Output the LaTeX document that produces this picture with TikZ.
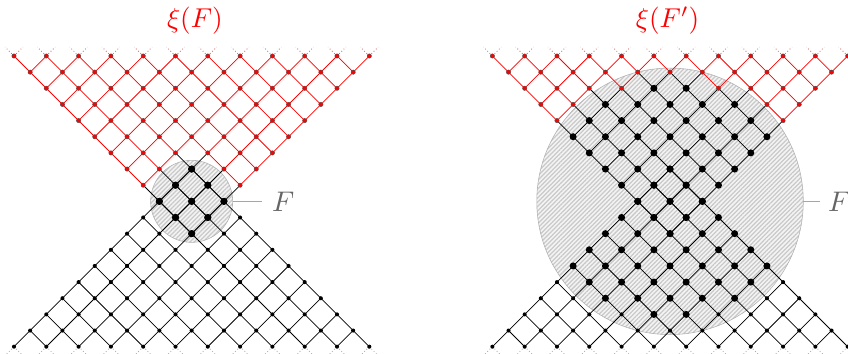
\documentclass[tikz,border=0pt]{standalone}
\usetikzlibrary{patterns.meta}

\tikzset{
  redline/.style={red, line width=0.65pt},
  blackline/.style={black, line width=0.65pt},
  stub/.style={dotted, line width=0.75pt},
  reddot/.style={fill=red, draw=black!70, line width=0.4pt},
  smalldot/.style={fill=black},
  bigdot/.style={fill=black},
  regionF/.style={pattern={Lines[angle=45, distance=2.7pt, line width=1.1pt]}, pattern color=gray!42},
  fline/.style={gray!70, line width=0.5pt},
  flabel/.style={anchor=west, inner sep=0pt, text=black!60, scale=2.5},
  title/.style={anchor=base, inner sep=1pt, text=red, scale=2.4},
}

\begin{document}
\begin{tikzpicture}[x=0.5cm, y=0.5cm]
  \useasboundingbox (-0.867,-18.45) rectangle (51.64,3.467);

  \foreach \p/\dx/\RR/\rad/\lx/\fx/\tx/\tit in {a/0/5/2.54/15.34/15.95/11.2/{$\xi(F)$}, b/29.62/55/8.25/20.29/20.75/10.85/{$\xi(F')$}} {
  \begin{scope}[shift={(\dx,0)}]
    % Points of the upper cone (rows 0..11)
    \foreach \r in {0,...,11} {
      \pgfmathtruncatemacro{\m}{11-\r}
      \foreach \k in {0,...,\m} {
        \pgfmathtruncatemacro{\n}{\r+2*\k}
        \coordinate (\p-\r-\n) at (\n,-\r);
      }
    }
    % Points of the lower cone (rows 7..18)
    \foreach \r in {7,...,18} {
      \pgfmathtruncatemacro{\m}{\r-7}
      \foreach \k in {0,...,\m} {
        \pgfmathtruncatemacro{\n}{18-\r+2*\k}
        \coordinate (\p-\r-\n) at (\n,-\r);
      }
    }
    \coordinate (\p-c) at (11,-9);
    \coordinate (\p-e) at (11+\rad,-9);
    \coordinate (\p-l) at (\lx,-9);

    % Region F (hatched disc)
    \fill[gray!9] (\p-c) circle (\rad);
    \fill[regionF] (\p-c) circle (\rad);
    \draw[gray!60, line width=0.5pt] (\p-c) circle (\rad);

    % Edges of the upper cone: black if they touch F
    \foreach \r in {1,...,11} {
      \pgfmathtruncatemacro{\m}{11-\r}
      \pgfmathtruncatemacro{\q}{\r-1}
      \foreach \k in {0,...,\m} {
        \pgfmathtruncatemacro{\n}{\r+2*\k}
        \pgfmathtruncatemacro{\nl}{\n-1}
        \pgfmathtruncatemacro{\nr}{\n+1}
        \pgfmathtruncatemacro{\fa}{(\n-11)*(\n-11)+(\r-9)*(\r-9)<=\RR}
        \pgfmathtruncatemacro{\cl}{\fa+((\nl-11)*(\nl-11)+(\q-9)*(\q-9)<=\RR)}
        \pgfmathtruncatemacro{\cr}{\fa+((\nr-11)*(\nr-11)+(\q-9)*(\q-9)<=\RR)}
        \ifnum\cl>0 \draw[blackline] (\p-\q-\nl) -- (\p-\r-\n);
        \else \draw[redline] (\p-\q-\nl) -- (\p-\r-\n); \fi
        \ifnum\cr>0 \draw[blackline] (\p-\q-\nr) -- (\p-\r-\n);
        \else \draw[redline] (\p-\q-\nr) -- (\p-\r-\n); \fi
      }
    }
    % Edges of the lower cone
    \foreach \r in {7,...,17} {
      \pgfmathtruncatemacro{\m}{\r-7}
      \pgfmathtruncatemacro{\q}{\r+1}
      \foreach \k in {0,...,\m} {
        \pgfmathtruncatemacro{\n}{18-\r+2*\k}
        \pgfmathtruncatemacro{\nl}{\n-1}
        \pgfmathtruncatemacro{\nr}{\n+1}
        \draw[blackline] (\p-\r-\n) -- (\p-\q-\nl);
        \draw[blackline] (\p-\r-\n) -- (\p-\q-\nr);
      }
    }

    % Dotted continuations at the top and the bottom
    \foreach \n in {0,2,...,22} {
      \draw[stub, red!50!gray!75] (\p-0-\n) -- ++(-0.55,0.55);
      \draw[stub, red!50!gray!75] (\p-0-\n) -- ++(0.55,0.55);
      \draw[stub, gray!65] (\p-18-\n) -- ++(-0.55,-0.55);
      \draw[stub, gray!65] (\p-18-\n) -- ++(0.55,-0.55);
    }

    % Dots
    \foreach \r in {0,...,11} {
      \pgfmathtruncatemacro{\m}{11-\r}
      \foreach \k in {0,...,\m} {
        \pgfmathtruncatemacro{\n}{\r+2*\k}
        \pgfmathtruncatemacro{\inF}{(\n-11)*(\n-11)+(\r-9)*(\r-9)<=\RR}
        \ifnum\inF=1 \fill[bigdot] (\p-\r-\n) circle (3.1pt);
        \else \filldraw[reddot] (\p-\r-\n) circle (1.9pt); \fi
      }
    }
    \foreach \r in {7,...,18} {
      \pgfmathtruncatemacro{\m}{\r-7}
      \foreach \k in {0,...,\m} {
        \pgfmathtruncatemacro{\n}{18-\r+2*\k}
        \pgfmathtruncatemacro{\inF}{(\n-11)*(\n-11)+(\r-9)*(\r-9)<=\RR}
        \ifnum\inF=1 \fill[bigdot] (\p-\r-\n) circle (3.1pt);
        \else \fill[smalldot] (\p-\r-\n) circle (1.8pt); \fi
      }
    }

    % Labels
    \node[title] (\p-t) at (\tx,1.78) {\tit};
    \node[flabel] (\p-F) at (\fx,-9) {$F$};
    \draw[fline] (\p-e) -- (\p-l);
  \end{scope}
  }
\end{tikzpicture}
\end{document}
